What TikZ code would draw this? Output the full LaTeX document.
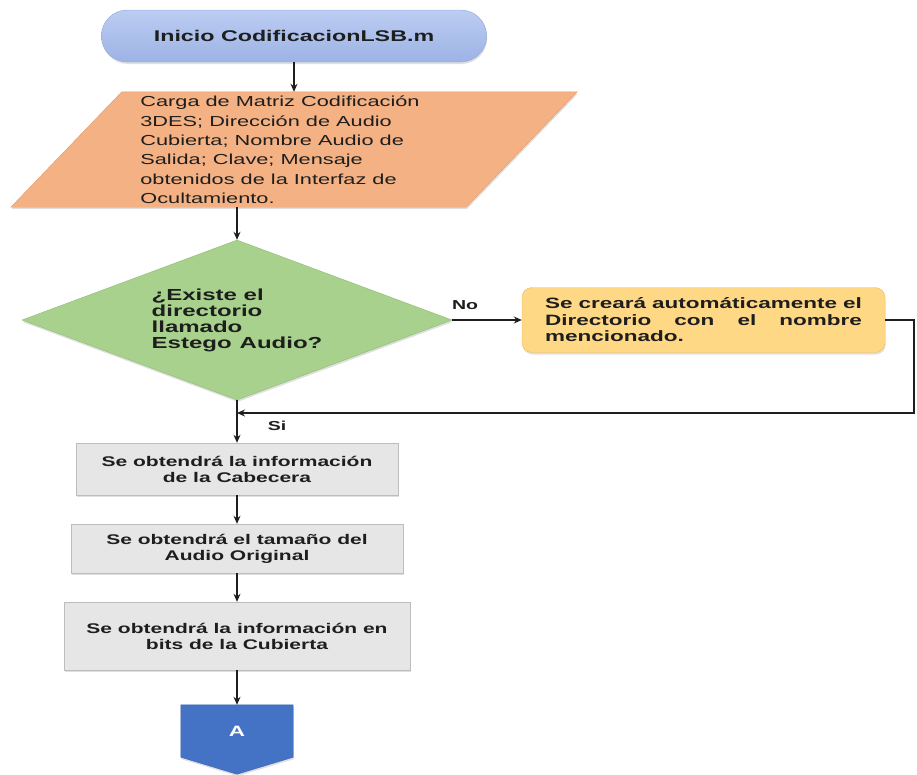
\documentclass[tikz,border=0pt]{standalone}
\usepackage{fontspec}
\setmainfont{Liberation Sans}[FakeStretch=1.5]
\usepackage{tikz}
\usetikzlibrary{arrows.meta, calc, shapes.geometric, shapes.misc, shadows}
\definecolor{starttop}{HTML}{BCCDF3}
\definecolor{startbot}{HTML}{9DB3E5}
\definecolor{startline}{HTML}{8DA5D8}
\definecolor{inputfill}{HTML}{F4B183}
\definecolor{inputline}{HTML}{E49A66}
\definecolor{decfill}{HTML}{A9D18E}
\definecolor{decline}{HTML}{8DBB70}
\definecolor{notefill}{HTML}{FFD886}
\definecolor{noteline}{HTML}{F2BA4C}
\definecolor{procfill}{HTML}{E7E6E6}
\definecolor{procline}{HTML}{BDBDBD}
\definecolor{confill}{HTML}{4472C4}
\definecolor{conline}{HTML}{3A62AE}
\definecolor{ink}{HTML}{1E1E1E}
\newcommand{\jline}[1]{\makebox[317pt][s]{#1}}
\tikzset{
  fc shadow/.style={
    drop shadow={shadow xshift=0.6pt, shadow yshift=-2pt, opacity=0.25}
  },
  fc start/.style={
    rounded rectangle,
    draw=startline, thin,
    top color=starttop, bottom color=startbot,
    minimum width=392pt, minimum height=52pt,
    font=\fontsize{15.5}{18}\selectfont\bfseries,
    text=ink, fc shadow
  },
  fc input/.style={
    draw=inputline, thin, fill=inputfill, fc shadow
  },
  fc inputtext/.style={
    align=left, text=ink, inner sep=0pt,
    font=\fontsize{14.5}{19.4}\selectfont
  },
  fc decision/.style={
    diamond, aspect=2.7,
    draw=decline, thin, fill=decfill,
    minimum width=430pt, minimum height=160pt,
    inner sep=0pt, align=left, text=ink,
    font=\fontsize{16}{16}\selectfont\bfseries,
    fc shadow
  },
  fc note/.style={
    rectangle, rounded corners=10pt,
    draw=noteline, thin, fill=notefill,
    minimum width=363pt, minimum height=65pt,
    align=left, text=ink,
    font=\fontsize{15}{16.5}\selectfont\bfseries,
    fc shadow
  },
  fc process/.style={
    rectangle, draw=procline, thin, fill=procfill,
    align=center, text=ink,
    font=\fontsize{14}{16}\selectfont\bfseries,
    fc shadow
  },
  fc connector/.style={
    draw=conline, thin, fill=confill, fc shadow
  },
  fc label/.style={
    text=ink, inner sep=1pt,
    font=\fontsize{13}{15}\selectfont\bfseries
  },
  fc arrow/.style={
    -{Stealth[length=8pt, width=7pt]},
    line width=1.3pt, color=ink
  }
}

\begin{document}
\begin{tikzpicture}[x=1pt, y=-1pt]
  \useasboundingbox (0,0) rectangle (917,774);

  % Inicio
  \node[fc start] (inicio) at (294,36) {Inicio CodificacionLSB.m};

  % Datos de entrada
  \node[minimum width=455pt, minimum height=115pt, inner sep=0pt] (entrada) at (294,149.5) {};
  \path[fc input] ($(entrada.north west)+(55.5,0)$) -- ($(entrada.north east)+(55.5,0)$)
    -- ($(entrada.south east)-(55.5,0)$) -- ($(entrada.south west)-(55.5,0)$) -- cycle;
  \node[fc inputtext] (entradatxt) at (280,150) {Carga de Matriz Codificación\\
    3DES; Dirección de Audio\\Cubierta; Nombre Audio de\\Salida; Clave; Mensaje\\
    obtenidos de la Interfaz de\\Ocultamiento.};

  % Decision
  \node[fc decision] (decision) at (237,320) {¿Existe el\\directorio\\llamado\\Estego\enspace Audio?};
  \node[fc note] (crear) at (703.5,320) {\jline{Se creará automáticamente el}\\
    \jline{Directorio con el nombre}\\mencionado.};
  \node[fc label] (nolbl) at (465,305) {No};
  \node[fc label] (silbl) at (277,426) {Si};
  \coordinate (retorno) at (914,413);
  \coordinate (union) at (237,413);

  % Procesos
  \node[fc process, minimum width=322pt, minimum height=52pt] (cabecera) at (237,469)
    {Se obtendrá la información\\de la Cabecera};
  \node[fc process, minimum width=332pt, minimum height=49pt] (tamano) at (237,548.5)
    {Se obtendrá el tamaño del\\Audio Original};
  \node[fc process, minimum width=346pt, minimum height=68pt] (bits) at (237,636)
    {Se obtendrá la información en\\bits de la Cubierta};

  % Conector A
  \node[minimum width=112pt, minimum height=52pt, inner sep=0pt] (conA) at (237,731) {};
  \path[fc connector] (conA.north west) -- (conA.north east) -- (conA.south east)
    -- ($(conA.south)+(0,17)$) -- (conA.south west) -- cycle;
  \node[text=white, font=\fontsize{15}{18}\selectfont\bfseries] (conAtxt) at (conA) {A};

  % Flechas
  \draw[fc arrow] (inicio.south) -- (entrada.north);
  \draw[fc arrow] (entrada.south -| decision.north) -- (decision.north);
  \draw[fc arrow] (decision.east) -- (crear.west);
  \draw[fc arrow] (crear.east) -| (retorno) -- (union);
  \draw[fc arrow] (decision.south) -- (cabecera.north);
  \draw[fc arrow] (cabecera) -- (tamano);
  \draw[fc arrow] (tamano) -- (bits);
  \draw[fc arrow] (bits) -- (conA);
\end{tikzpicture}
\end{document}
